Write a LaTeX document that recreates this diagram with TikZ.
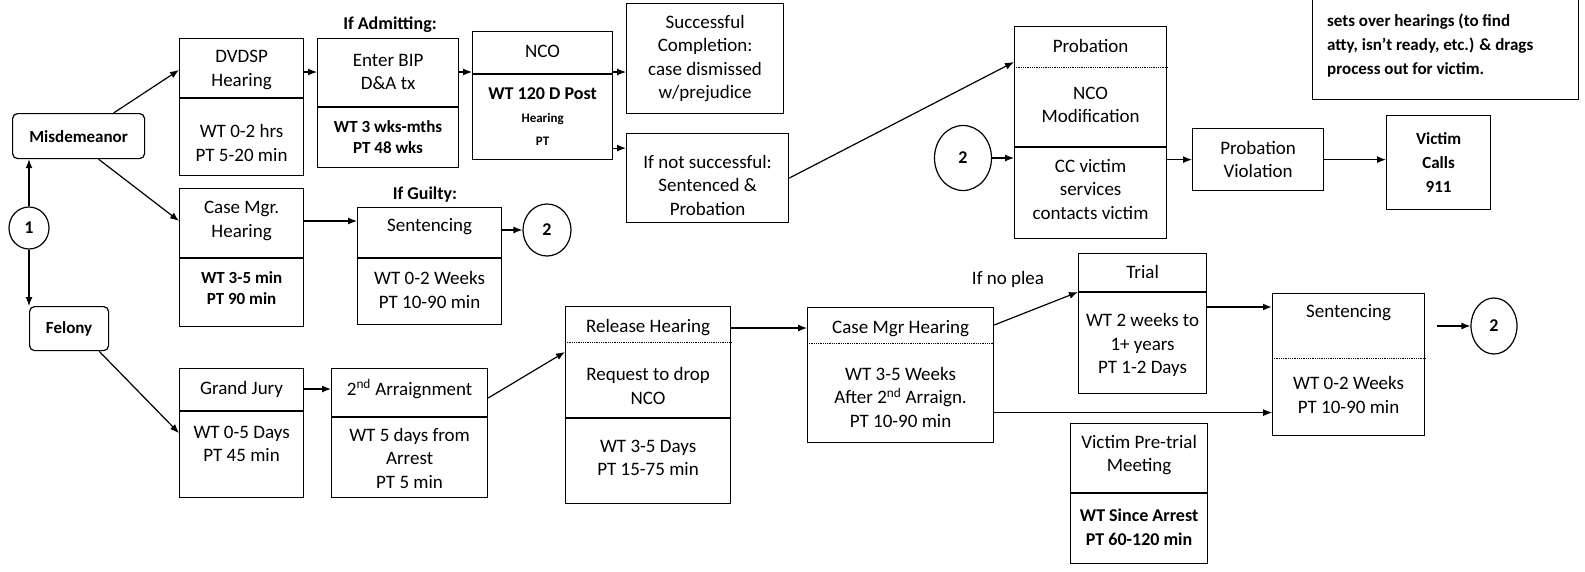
\documentclass[tikz,border=0pt]{standalone}
\usepackage{fontspec}
\setmainfont{Carlito}
\usetikzlibrary{arrows.meta,shapes.geometric}

\tikzset{
  box/.style={draw,line width=1.2pt,anchor=north west,inner sep=0pt},
  entry/.style={box,rounded corners=5pt},
  ring/.style={draw,ellipse,line width=1.2pt,inner sep=0pt,font=\fontsize{18}{22}\selectfont\bfseries},
  txt/.style={align=center,inner sep=0pt,font=\fontsize{19}{23.5}\selectfont},
  txtb/.style={txt,font=\fontsize{18}{23.5}\selectfont\bfseries},
  sml/.style={align=center,inner sep=0pt,font=\fontsize{17}{21}\selectfont\bfseries},
  smalltxt/.style={align=center,inner sep=0pt,font=\fontsize{13}{23}\selectfont\bfseries},
  divline/.style={line width=1.2pt},
  dotline/.style={densely dotted,line width=0.8pt},
  flow/.style={line width=1.2pt,-{Latex[length=9pt,width=7pt]}},
}

\begin{document}
\begin{tikzpicture}[x=1pt,y=-1pt]
\clip (0,0) rectangle (1585,571);

% starting points
\node[entry,sml,minimum width=132pt,minimum height=45pt] (misd) at (12,113) {Misdemeanor};
\node[entry,sml,minimum width=79pt,minimum height=44pt] (fel) at (29,306) {Felony};
\node[ring,minimum width=40pt,minimum height=42pt] (c1) at (29,228) {1};

% misdemeanor track
\node[box,minimum width=124pt,minimum height=137pt] (dvdsp) at (179,38) {};
\draw[divline] (dvdsp.west |- 0,98) -- (dvdsp.east |- 0,98);
\node[txt] (dvdspA) at (dvdsp.center |- 0,70) {DVDSP\\Hearing};
\node[txt] (dvdspB) at (dvdsp.center |- 0,143) {WT 0-2 hrs\\PT 5-20 min};

\node[box,minimum width=124pt,minimum height=138pt] (cmgr) at (179,188) {};
\draw[divline] (cmgr.west |- 0,258) -- (cmgr.east |- 0,258);
\node[txt] (cmgrA) at (cmgr.center |- 0,221) {Case Mgr.\\Hearing};
\node[sml] (cmgrB) at (cmgr.center |- 0,288) {WT 3-5 min\\PT 90 min};

\node[txtb] (admit) at (390,25) {If Admitting:};
\node[box,minimum width=141pt,minimum height=129pt] (bip) at (317,38) {};
\draw[divline] (bip.west |- 0,107) -- (bip.east |- 0,107);
\node[txt] (bipA) at (bip.center |- 0,72) {Enter BIP\\D\&A tx};
\node[sml] (bipB) at (bip.center |- 0,137) {WT 3 wks-mths\\PT 48 wks};

\node[box,minimum width=140pt,minimum height=128pt] (nco) at (472,31) {};
\draw[divline] (nco.west |- 0,74) -- (nco.east |- 0,74);
\node[txt] (ncoA) at (nco.center |- 0,51) {NCO};
\node[txtb] (ncoB) at (nco.center |- 0,94) {WT 120 D Post};
\node[smalltxt] (ncoC) at (nco.center |- 0,129) {Hearing\\PT};

\node[box,minimum width=157pt,minimum height=110pt] (succ) at (626,3) {};
\node[txt] (succT) at (succ.center) {Successful\\Completion:\\case dismissed\\w/prejudice};
\node[box,minimum width=162pt,minimum height=89pt] (fail) at (626,133) {};
\node[txt] (failT) at (fail.center |- 0,185) {If not successful:\\Sentenced \&\\Probation};

\node[txtb] (guilty) at (425,195) {If Guilty:};
\node[box,minimum width=144pt,minimum height=117pt] (sentm) at (357,207) {};
\draw[divline] (sentm.west |- 0,258) -- (sentm.east |- 0,258);
\node[txt] (sentmA) at (sentm.center |- 0,227) {Sentencing};
\node[txt] (sentmB) at (sentm.center |- 0,290) {WT 0-2 Weeks\\PT 10-90 min};
\node[ring,minimum width=48pt,minimum height=52pt] (c2a) at (547,230) {2};

% felony track
\node[box,minimum width=124pt,minimum height=129pt] (gj) at (179,368) {};
\draw[divline] (gj.west |- 0,411) -- (gj.east |- 0,411);
\node[txt] (gjA) at (gj.center |- 0,389) {Grand Jury};
\node[txt] (gjB) at (gj.center |- 0,444) {WT 0-5 Days\\PT 45 min};

\node[box,minimum width=156pt,minimum height=129pt] (arr2) at (331,368) {};
\draw[divline] (arr2.west |- 0,417) -- (arr2.east |- 0,417);
\node[txt] (arr2A) at (arr2.center |- 0,389) {2\textsuperscript{nd} Arraignment};
\node[txt] (arr2B) at (arr2.center |- 0,458) {WT 5 days from\\Arrest\\PT 5 min};

\node[box,minimum width=165pt,minimum height=197pt] (rel) at (565,306) {};
\draw[dotline] (rel.west |- 0,342) -- (rel.east |- 0,342);
\draw[divline] (rel.west |- 0,418) -- (rel.east |- 0,418);
\node[txt] (relA) at (rel.center |- 0,328) {Release Hearing};
\node[txt] (relB) at (rel.center |- 0,386) {Request to drop\\NCO};
\node[txt] (relC) at (rel.center |- 0,458) {WT 3-5 Days\\PT 15-75 min};

\node[box,minimum width=186pt,minimum height=135pt] (cmh) at (807,307) {};
\draw[dotline] (cmh.west |- 0,343) -- (cmh.east |- 0,343);
\node[txt] (cmhA) at (cmh.center |- 0,329) {Case Mgr Hearing};
\node[txt] (cmhB) at (cmh.center |- 0,397) {WT 3-5 Weeks\\After 2\textsuperscript{nd} Arraign.\\PT 10-90 min};

\node[txt] (noplea) at (1008,279) {If no plea};
\node[box,minimum width=128pt,minimum height=140pt] (trial) at (1078,253) {};
\draw[divline] (trial.west |- 0,292) -- (trial.east |- 0,292);
\node[txt] (trialA) at (trial.center |- 0,272) {Trial};
\node[txt] (trialB) at (trial.center |- 0,345) {WT 2 weeks to\\1+ years\\PT 1-2 Days};

\node[box,minimum width=137pt,minimum height=140pt] (vpt) at (1070,423) {};
\draw[divline] (vpt.west |- 0,493) -- (vpt.east |- 0,493);
\node[txt] (vptA) at (vpt.center |- 0,455) {Victim Pre-trial\\Meeting};
\node[txtb] (vptB) at (vpt.center |- 0,527) {WT Since Arrest\\PT 60-120 min};

\node[box,minimum width=152pt,minimum height=142pt] (sentf) at (1272,293) {};
\draw[dotline] (sentf.west |- 0,358) -- (sentf.east |- 0,358);
\node[txt] (sentfA) at (sentf.center |- 0,313) {Sentencing};
\node[txt] (sentfB) at (sentf.center |- 0,395) {WT 0-2 Weeks\\PT 10-90 min};
\node[ring,minimum width=46pt,minimum height=56pt] (c2c) at (1494,326) {2};

% probation
\node[ring,minimum width=57pt,minimum height=65pt] (c2b) at (963,158) {2};
\node[box,minimum width=152pt,minimum height=212pt] (prob) at (1014,26) {};
\draw[dotline] (prob.west |- 0,67) -- (prob.east |- 0,67);
\draw[divline] (prob.west |- 0,147) -- (prob.east |- 0,147);
\node[txt] (probA) at (prob.center |- 0,46) {Probation};
\node[txt] (probB) at (prob.center |- 0,105) {NCO\\Modification};
\node[txt] (probC) at (prob.center |- 0,189) {CC victim\\services\\contacts victim};

\node[box,minimum width=131pt,minimum height=62pt] (pv) at (1192,128) {};
\node[txt] (pvT) at (pv.center) {Probation\\Violation};
\node[box,minimum width=104pt,minimum height=94pt] (vc) at (1386,115) {};
\node[txtb,font=\fontsize{17}{24}\selectfont\bfseries] (vcT) at (vc.center) {Victim\\Calls\\911};

\node[box,minimum width=266pt,minimum height=130pt] (note) at (1312,-31) {};
\node[txtb,align=left,anchor=west,font=\fontsize{17}{24}\selectfont\bfseries] (noteT) at (1327,46) {sets over hearings (to find\\atty, isn't ready, etc.) \& drags\\process out for victim.};

% connectors
\draw[flow] (c1) -- (c1 |- misd.south);
\draw[flow] (c1) -- (c1 |- fel.north);
\draw[flow] ([xshift=35pt]misd.north) -- (dvdsp.west |- dvdspA);
\draw[flow] ([xshift=20pt]misd.south) -- (cmgr.west |- cmgrA);
\draw[flow] ([xshift=30pt]fel.south) -- (gj.west);
\draw[flow] (dvdsp.east |- bipA) -- (bip.west |- bipA);
\draw[flow] (bip.east |- bipA) -- (nco.west |- bipA);
\draw[flow] (nco.east |- bipA) -- (succ.west |- bipA);
\coordinate (failin) at ([yshift=30pt]fail.west);
\draw[flow] (nco.east |- failin) -- (failin);
\draw[flow] (fail.east) -- ([yshift=-36pt]prob.north west);
\draw[flow] (cmgr.east |- cmgrA) -- (sentm.west |- cmgrA);
\draw[flow] (sentm.east |- c2a) -- (c2a);
\draw[flow] (gj.east |- gjA) -- (arr2.west |- gjA);
\draw[flow] ([yshift=-30pt]arr2.north east) -- ([yshift=-46pt]rel.north west);
\draw[flow] (rel.east |- relA) -- (cmh.west |- relA);
\draw[flow] ([yshift=-18pt]cmh.north east) -- ([yshift=-39pt]trial.north west);
\coordinate (lowout) at ([yshift=-37.5pt]cmh.east);
\draw[flow,line width=0.8pt] (lowout) -- (lowout -| sentf.west);
\coordinate (trialout) at ([yshift=-54pt]trial.north east);
\draw[flow,line width=2pt] (trialout) -- (trialout -| sentf.west);
\coordinate (toring) at (1437,326);
\draw[flow] (toring) -- (c2c);
\draw[flow] (c2b) -- (prob.west |- c2b);
\draw[flow] (prob.east |- pv) -- (pv.west);
\draw[flow] (pv.east) -- (vc.west |- pv.east);
\end{tikzpicture}
\end{document}
